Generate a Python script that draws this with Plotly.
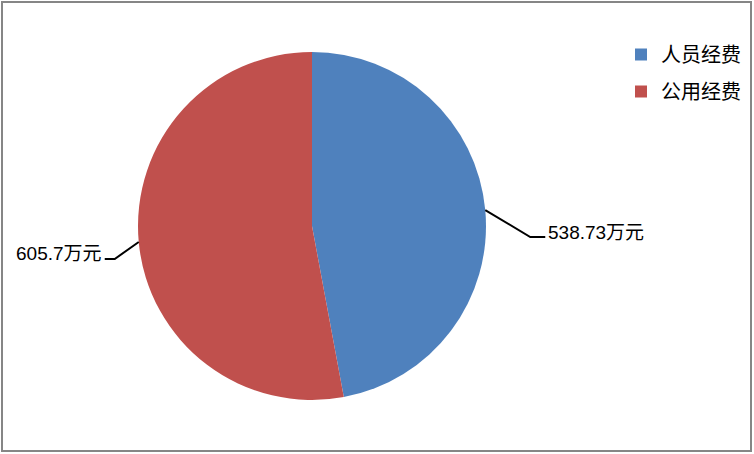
import math
import plotly.graph_objects as go

# ---- data ----
categories = ["人员经费", "公用经费"]
values = [538.73, 605.7]
value_labels = ["538.73万元", "605.7万元"]
colors = ["#4F81BD", "#C0504D"]

W, H = 754, 454
# pie geometry in pixels
CX, CY, R = 312, 226, 174

def px(x):
    return x / W

def py(y):
    return 1 - y / H

fig = go.Figure()
fig.add_trace(go.Pie(
    labels=categories, values=values, sort=False, direction="clockwise",
    rotation=0, textinfo="none", hoverinfo="label+value",
    marker=dict(colors=colors, line=dict(width=0)),
    domain=dict(x=[px(CX - R), px(CX + R)], y=[py(CY + R), py(CY - R)]),
    showlegend=False,
))

# legend via dummy traces
for i, (c, col) in enumerate(zip(categories, colors)):
    fig.add_trace(go.Scatter(
        x=[None], y=[None], mode="markers", name=c, legendgroup=c,
        marker=dict(symbol="square", size=12, color=col),
    ))

# label leader lines derived from slice mid-angles
total = sum(values)
offsets = [(45, 27, 15), (-24, 17, -10)]
cum = 0
shapes = []
annotations = []
for v, lab, (dx, dy, hx) in zip(values, value_labels, offsets):
    mid = (cum + v / 2) / total * 2 * math.pi
    cum += v
    ex = CX + R * math.sin(mid)
    ey = CY - R * math.cos(mid)
    kx, ky = ex + dx, ey + dy
    hx2 = kx + hx
    shapes.append(dict(
        type="path", xref="paper", yref="paper",
        path=f"M {px(ex)} {py(ey)} L {px(kx)} {py(ky)} L {px(hx2)} {py(ky)}",
        line=dict(color="black", width=2),
    ))
    right = hx > 0
    annotations.append(dict(
        x=px(hx2 + (1 if right else -1)), y=py(ky - 5), xref="paper", yref="paper",
        text=lab, showarrow=False, xanchor="left" if right else "right",
        yanchor="middle", font=dict(size=19, color="black"),
    ))

shapes.append(dict(type="rect", xref="paper", yref="paper",
                   x0=px(2), x1=px(751), y0=py(451), y1=py(2),
                   line=dict(color="#868686", width=2)))

fig.update_layout(
    width=W, height=H, margin=dict(l=0, r=0, t=0, b=0),
    paper_bgcolor="white", plot_bgcolor="white",
    font=dict(family="Liberation Sans, Noto Sans CJK SC", color="black"),
    xaxis=dict(visible=False), yaxis=dict(visible=False),
    shapes=shapes, annotations=annotations,
    legend=dict(x=px(621), y=py(35), xanchor="left", yanchor="top",
                font=dict(size=20, family="Noto Sans CJK SC", color="black"),
                tracegroupgap=8, bgcolor="rgba(0,0,0,0)"),
)

fig.write_html("out.html", config={"displayModeBar": False},
               post_script="document.body.style.margin='0px';")
